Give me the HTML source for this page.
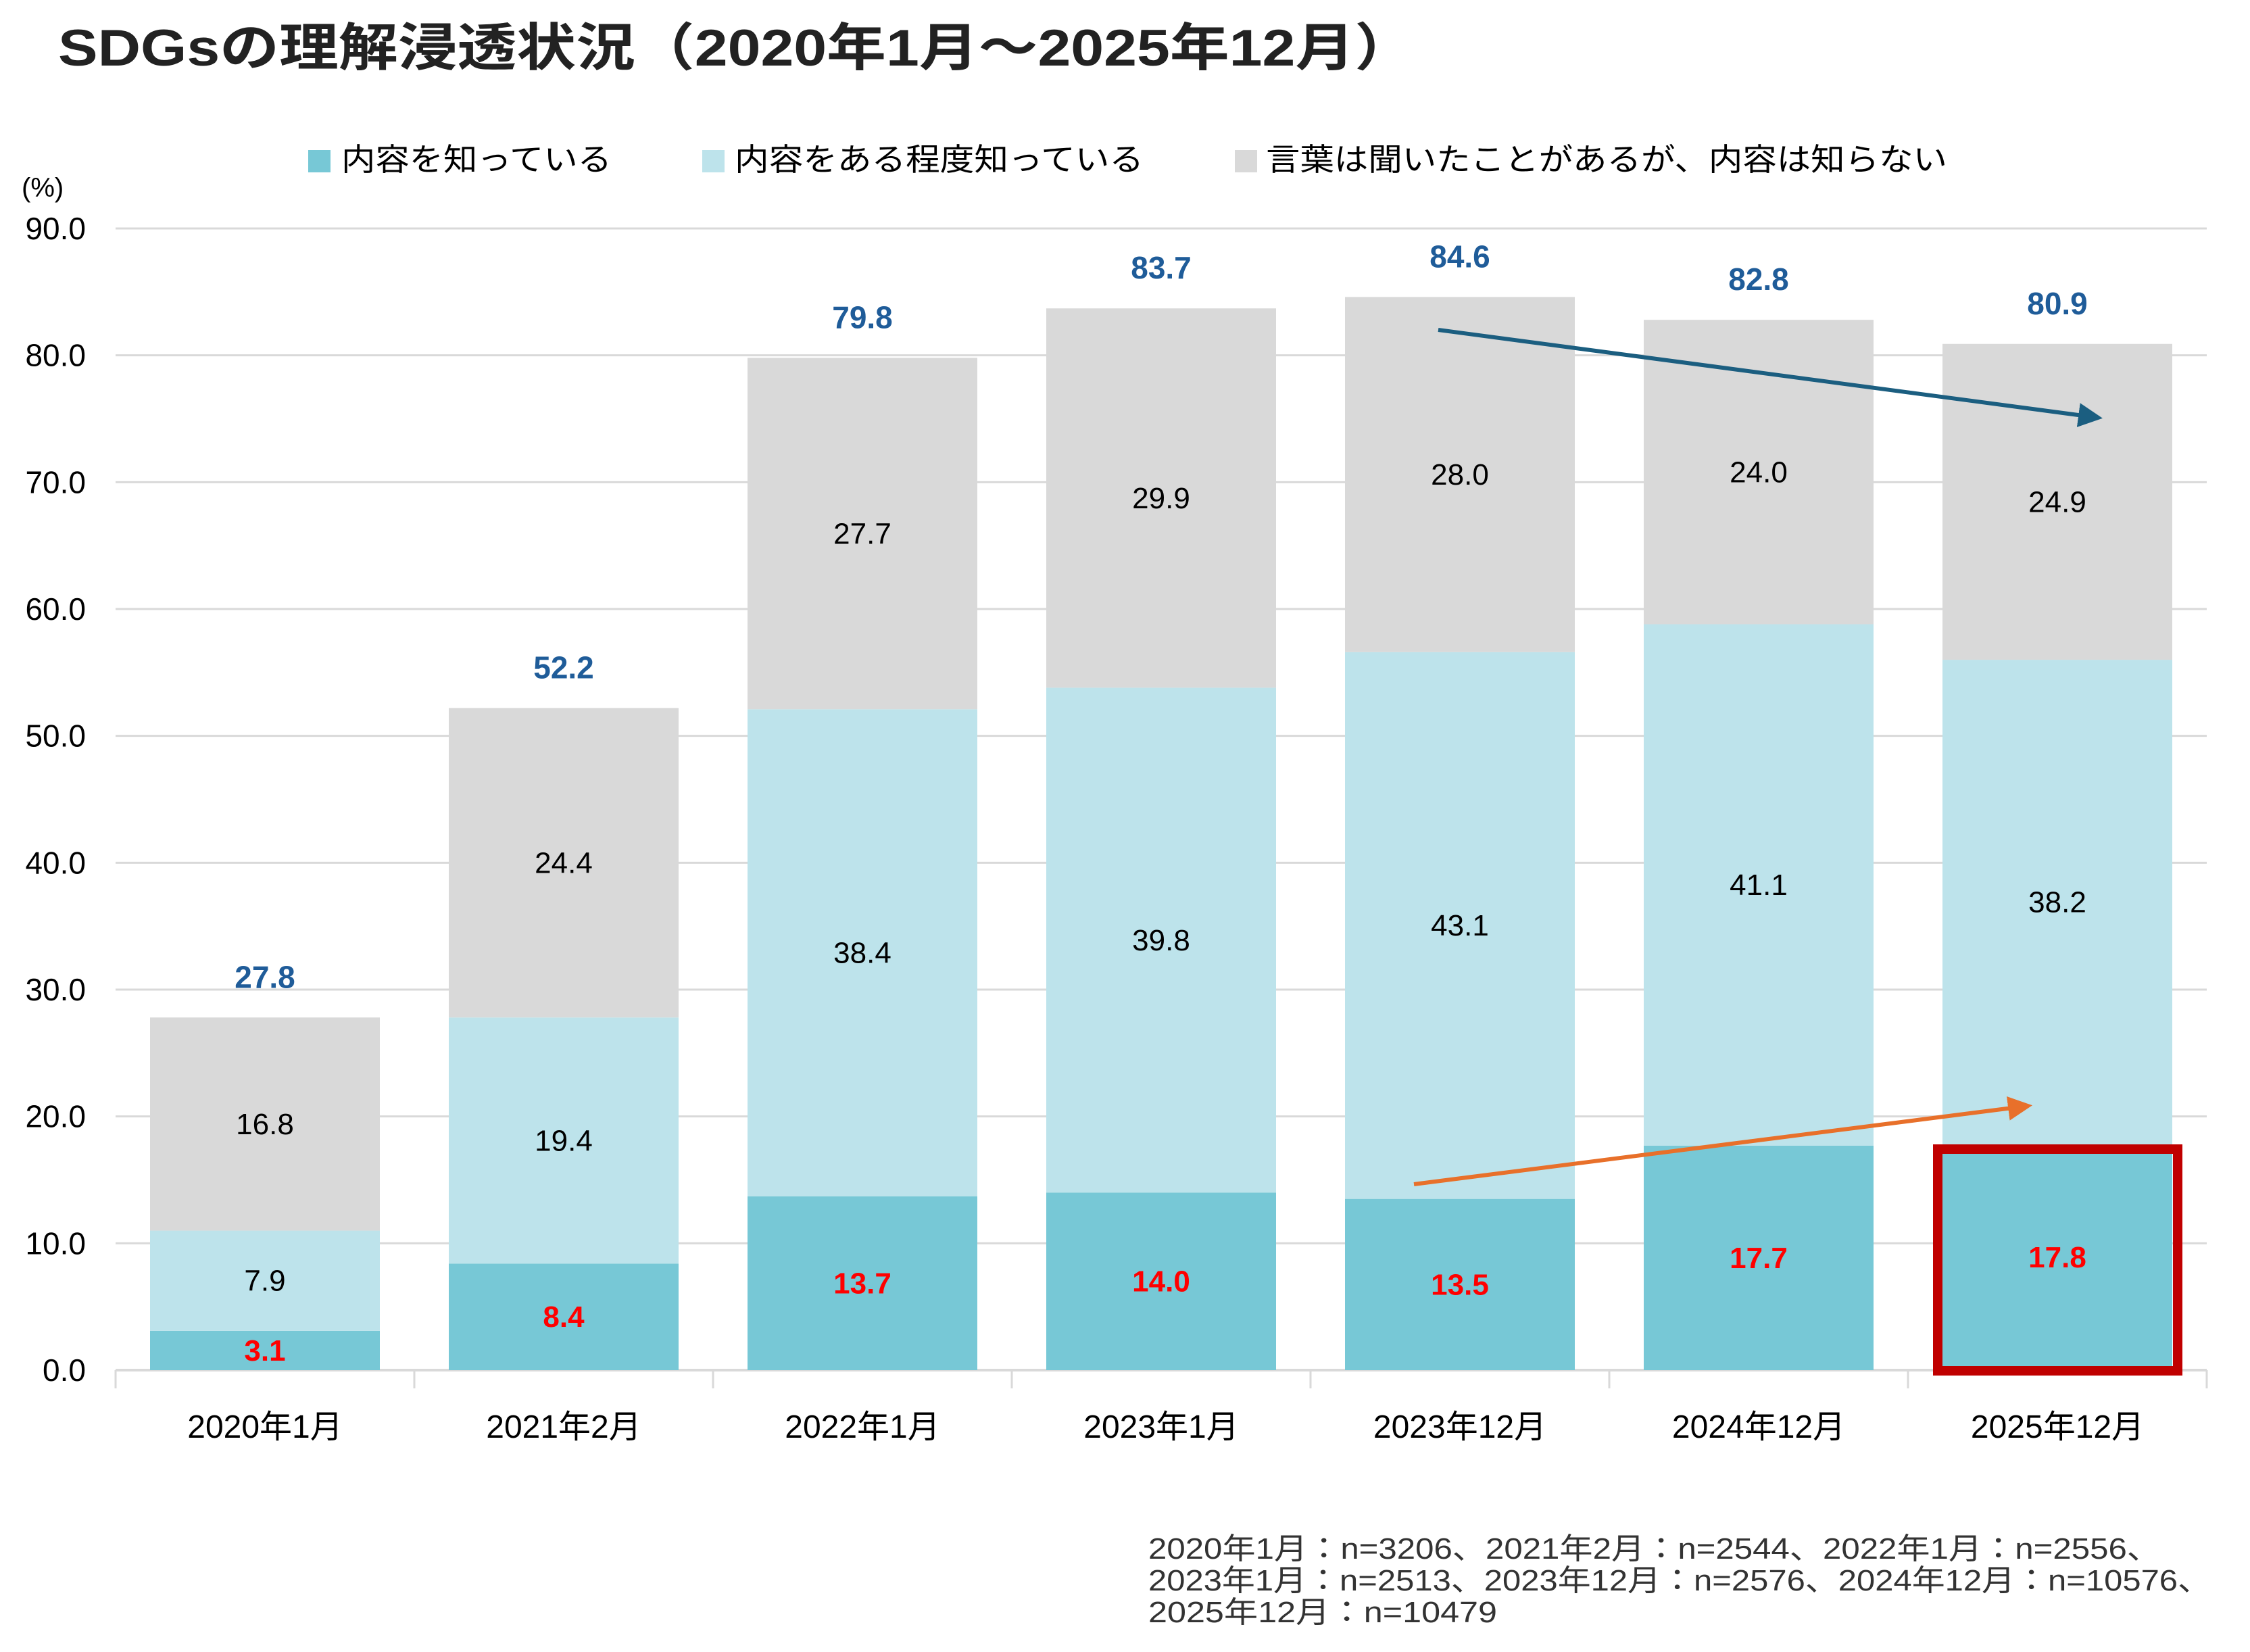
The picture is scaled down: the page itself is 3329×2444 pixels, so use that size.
<!DOCTYPE html>
<html><head><meta charset="utf-8"><style>
html,body{margin:0;padding:0;background:#fff;}
svg{display:block;font-family:"Liberation Sans","Noto Sans CJK JP",sans-serif;}
</style></head><body>
<svg id="chart" width="3329" height="2444" viewBox="0 0 3329 2444" xmlns="http://www.w3.org/2000/svg">
<text x="86" y="97" font-size="76" font-weight="bold" fill="#222" textLength="2006" lengthAdjust="spacingAndGlyphs">SDGsの理解浸透状況（2020年1月～2025年12月）</text>
<g>
<rect x="456" y="222" width="33" height="33" fill="#77C8D6"/>
<text x="505" y="252" font-size="46" fill="#000" textLength="400" lengthAdjust="spacingAndGlyphs">内容を知っている</text>
<rect x="1039" y="222" width="33" height="33" fill="#BDE3EB"/>
<text x="1087" y="252" font-size="46" fill="#000" textLength="605" lengthAdjust="spacingAndGlyphs">内容をある程度知っている</text>
<rect x="1827" y="222" width="33" height="33" fill="#D9D9D9"/>
<text x="1873" y="252" font-size="46" fill="#000" textLength="1008" lengthAdjust="spacingAndGlyphs">言葉は聞いたことがあるが、内容は知らない</text>
</g>
<text x="32" y="291" font-size="40" fill="#000">(%)</text>
<g id="grid"></g>
<g id="bars"></g>
<g id="labels"></g>
<g>
<defs>
<marker id="ab" markerWidth="6" markerHeight="6" refX="5" refY="3" orient="auto" markerUnits="strokeWidth"><path d="M0,0 L6,3 L0,6 z" fill="#1B5E80"/></marker>
<marker id="ao" markerWidth="6" markerHeight="6" refX="5" refY="3" orient="auto" markerUnits="strokeWidth"><path d="M0,0 L6,3 L0,6 z" fill="#E8702A"/></marker>
</defs>
<line x1="2128" y1="488" x2="3105" y2="618" stroke="#1B5E80" stroke-width="6" marker-end="url(#ab)"/>
<line x1="2092" y1="1752" x2="3001" y2="1636" stroke="#E8702A" stroke-width="6" marker-end="url(#ao)"/>
</g>
<rect x="2867" y="1700" width="355" height="328" fill="none" stroke="#C00000" stroke-width="14"/>
<g font-size="44" fill="#333">
<text x="1699" y="2306" textLength="1497" lengthAdjust="spacingAndGlyphs">2020年1月：n=3206、2021年2月：n=2544、2022年1月：n=2556、</text>
<text x="1699" y="2353" textLength="1572" lengthAdjust="spacingAndGlyphs">2023年1月：n=2513、2023年12月：n=2576、2024年12月：n=10576、</text>
<text x="1699" y="2400" textLength="516" lengthAdjust="spacingAndGlyphs">2025年12月：n=10479</text>
</g>
</svg>
<script>
const categories = ["2020年1月","2021年2月","2022年1月","2023年1月","2023年12月","2024年12月","2025年12月"];
const knowContent = [3.1,8.4,13.7,14.0,13.5,17.7,17.8];
const knowSomewhat = [7.9,19.4,38.4,39.8,43.1,41.1,38.2];
const heardOnly = [16.8,24.4,27.7,29.9,28.0,24.0,24.9];
const totals = ["27.8","52.2","79.8","83.7","84.6","82.8","80.9"];
const yTicks = [0,10,20,30,40,50,60,70,80,90];

const NS="http://www.w3.org/2000/svg";
const X0=171, X1=3265, Y0=2027, YTOP=338, YMAX=90;
const cw=(X1-X0)/categories.length, bw=340;
function y(v){return Y0-(v/YMAX)*(Y0-YTOP);}
function xc(i){return X0+cw*(i+0.5);}
function mk(tag,attrs,parent){const e=document.createElementNS(NS,tag);for(const k in attrs)e.setAttribute(k,attrs[k]);parent.appendChild(e);return e;}
const grid=document.getElementById('grid'), bars=document.getElementById('bars'), labels=document.getElementById('labels');
yTicks.forEach(t=>{
  if(t>0){const l=mk('line',{x1:X0,x2:X1,y1:y(t),y2:y(t),stroke:'#D9D9D9','stroke-width':3},grid);
  
  }
  const tx=mk('text',{x:127,y:y(t)+16,'font-size':46,'text-anchor':'end',fill:'#000'},grid);
  tx.textContent=t.toFixed(1);
  
  
});
const ax=mk('line',{x1:X0,x2:X1,y1:Y0,y2:Y0,stroke:'#D9D9D9','stroke-width':4},grid);


for(let i=0;i<=categories.length;i++){
  const tk=mk('line',{x1:X0+cw*i,x2:X0+cw*i,y1:Y0,y2:Y0+27,stroke:'#D9D9D9','stroke-width':3},grid);
  
  
}
categories.forEach((c,i)=>{
  const cx=xc(i), x=cx-bw/2;
  const segs=[[0,knowContent[i],'#77C8D6','bar-know-content'],[knowContent[i],knowSomewhat[i],'#BDE3EB','bar-know-somewhat'],[knowContent[i]+knowSomewhat[i],heardOnly[i],'#D9D9D9','bar-heard-only']];
  segs.forEach((s,j)=>{
    const r=mk('rect',{x:x,y:y(s[0]+s[1]),width:bw,height:y(s[0])-y(s[0]+s[1]),fill:s[2]},bars);
    
    
    const t=mk('text',{x:cx,y:(y(s[0])+y(s[0]+s[1]))/2+15,'font-size':44,'text-anchor':'middle',fill:j==0?'#FF0000':'#000','font-weight':j==0?'bold':'normal'},labels);
    t.textContent=s[1].toFixed(1);
    
    
  });
  const top=knowContent[i]+knowSomewhat[i]+heardOnly[i];
  const tt=mk('text',{x:cx,y:y(top)-44,'font-size':46,'text-anchor':'middle',fill:'#1F5C99','font-weight':'bold'},labels);
  tt.textContent=totals[i];
  
  
  const xl=mk('text',{x:cx,y:2127,'font-size':48,'text-anchor':'middle',fill:'#000'},labels);
  xl.textContent=c;
  
  
});
</script>
</body></html>
